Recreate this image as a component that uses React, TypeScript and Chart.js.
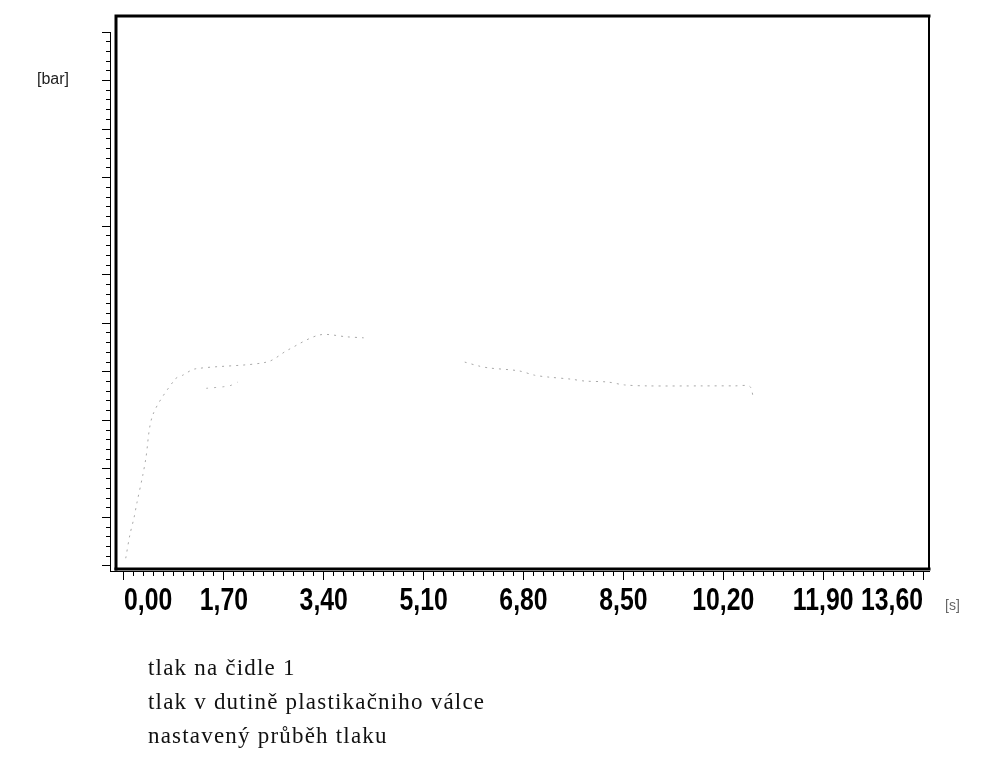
import React, { useEffect, useRef } from 'react';
import { Chart, registerables } from 'chart.js';

Chart.register(...registerables);

// Time axis labels (s), one per major tick
const timeLabels = ['0,00', '1,70', '3,40', '5,10', '6,80', '8,50', '10,20', '11,90', '13,60'];
const timeMajorStep = 1.7;
const timeMinorPerMajor = 10;

// Pressure axis (bar) – unlabelled ticks
const pressureMax = 110;
const pressureMajorStep = 10;
const pressureMinorStep = 2;

// Series names
const seriesNames = ['tlak na čidle 1', 'tlak v dutině plastikačniho válce', 'nastavený průběh tlaku'];

// tlak na čidle 1
const sensorTime = [0.03, 0.10, 0.17, 0.22, 0.32, 0.37, 0.49, 0.87, 1.00, 1.21, 2.43, 2.79, 3.33, 3.80, 4.08, 4.60, 5.80, 6.04, 6.21, 6.72, 6.99, 7.24, 7.60, 7.84, 8.23, 8.52, 8.91, 9.84, 10.39, 10.65, 10.71];
const sensorPressure = [1.6, 6.4, 9.9, 13.0, 18.7, 22.0, 31.1, 38.5, 39.3, 40.6, 42.0, 44.5, 47.6, 47.2, 47.0, null, 42.0, 41.2, 40.8, 40.2, 39.3, 38.9, 38.5, 38.1, 37.9, 37.3, 37.1, 37.1, 37.1, 37.0, 34.8];

// tlak v dutině plastikačniho válce (visible fragment)
const cavityTime = [1.40, 1.79, 1.94];
const cavityPressure = [36.6, 37.1, 37.9];

// nastavený průběh tlaku (no visible trace)
const setpointTime: number[] = [];
const setpointPressure: number[] = [];

const toPoints = (xs: number[], ys: (number | null)[]) => xs.map((x, i) => ({ x, y: ys[i] }));

// Thick frame around the plotting region
const plotFrame = {
  id: 'plotFrame',
  afterDraw(chart: any) {
    const { ctx, chartArea } = chart;
    const l = chartArea.left + 6;
    const t = chartArea.top - 16;
    const r = chartArea.right;
    const b = chartArea.bottom - 2;
    ctx.save();
    ctx.strokeStyle = '#000';
    ctx.lineCap = 'square';
    ctx.lineWidth = 3;
    ctx.beginPath();
    ctx.moveTo(l, b);
    ctx.lineTo(l, t);
    ctx.lineTo(r, t);
    ctx.stroke();
    ctx.lineWidth = 2;
    ctx.beginPath();
    ctx.moveTo(r, t);
    ctx.lineTo(r, b);
    ctx.stroke();
    ctx.lineWidth = 3;
    ctx.beginPath();
    ctx.moveTo(r, b);
    ctx.lineTo(l, b);
    ctx.stroke();
    ctx.restore();
  },
};

// Narrow bold labels under the major time ticks
const narrowTimeLabels = {
  id: 'narrowTimeLabels',
  afterDraw(chart: any) {
    const { ctx, chartArea } = chart;
    const xScale = chart.scales.x;
    const baseline = chartArea.bottom + 39;
    const last = timeLabels.length - 1;
    ctx.save();
    ctx.fillStyle = '#000';
    ctx.font = "bold 31px 'Liberation Sans', Arial, sans-serif";
    ctx.textBaseline = 'alphabetic';
    timeLabels.forEach((label, i) => {
      const x = xScale.getPixelForValue(i * timeMajorStep);
      ctx.save();
      ctx.translate(x, baseline);
      ctx.scale(0.8, 1);
      ctx.textAlign = i === 0 ? 'left' : i === last ? 'right' : 'center';
      ctx.fillText(label, 0, 0);
      ctx.restore();
    });
    ctx.restore();
  },
};

export default function App() {
  const canvasRef = useRef<HTMLCanvasElement>(null);

  useEffect(() => {
    if (!canvasRef.current) return;
    const chart = new Chart(canvasRef.current, {
      type: 'line',
      data: {
        datasets: [
          {
            label: seriesNames[0],
            data: toPoints(sensorTime, sensorPressure),
            borderColor: '#a8a8a8',
            borderWidth: 1,
            borderDash: [2, 5],
            pointRadius: 0,
            tension: 0.3,
            spanGaps: false,
          },
          {
            label: seriesNames[1],
            data: toPoints(cavityTime, cavityPressure),
            borderColor: '#b4b4b4',
            borderWidth: 1,
            borderDash: [2, 6],
            pointRadius: 0,
            tension: 0.3,
          },
          {
            label: seriesNames[2],
            data: toPoints(setpointTime, setpointPressure),
            borderColor: '#b4b4b4',
            borderWidth: 1,
            pointRadius: 0,
          },
        ],
      },
      options: {
        responsive: false,
        animation: false,
        events: [],
        layout: { padding: { left: 96, top: 32, right: 75, bottom: 135 } },
        plugins: { legend: { display: false }, tooltip: { enabled: false } },
        scales: {
          x: {
            type: 'linear',
            min: -0.238,
            max: 13.702,
            afterBuildTicks: (scale: any) => {
              const n = (timeLabels.length - 1) * timeMinorPerMajor;
              const ticks = [];
              for (let i = 0; i <= n; i++) ticks.push({ value: (i * timeMajorStep) / timeMinorPerMajor });
              scale.ticks = ticks;
            },
            afterFit: (scale: any) => {
              scale.height = 60;
            },
            ticks: { display: false, autoSkip: false, maxRotation: 0 },
            grid: {
              drawOnChartArea: false,
              drawTicks: true,
              tickLength: 9,
              tickColor: '#000',
              tickWidth: 1,
              tickBorderDash: (ctx: any) => (ctx.index % timeMinorPerMajor === 0 ? [] : [4, 20]),
            },
            border: { display: true, color: '#000', width: 1 },
          },
          y: {
            type: 'linear',
            min: -1.03,
            max: pressureMax,
            afterBuildTicks: (scale: any) => {
              const ticks = [];
              for (let v = 0; v <= pressureMax; v += pressureMinorStep) ticks.push({ value: v });
              scale.ticks = ticks;
            },
            afterFit: (scale: any) => {
              scale.width = 14;
            },
            ticks: { display: false },
            grid: {
              drawOnChartArea: false,
              drawTicks: true,
              tickLength: 8,
              tickColor: '#000',
              tickWidth: 1,
              tickBorderDash: (ctx: any) =>
                ctx.tick && ctx.tick.value % pressureMajorStep === 0 ? [] : [0, 4, 4, 0],
            },
            border: { display: true, color: '#000', width: 1 },
          },
        },
      },
      plugins: [plotFrame, narrowTimeLabels],
    });
    return () => chart.destroy();
  }, []);

  return (
    <div style={{ position: 'absolute', left: 0, top: 0, width: 1004, height: 766, background: '#fff', overflow: 'hidden' }}>
      <canvas ref={canvasRef} width={1004} height={766} style={{ position: 'absolute', left: 0, top: 0 }} />
      <div style={{ position: 'absolute', left: 37, top: 70, font: "16px 'Liberation Sans', Arial, sans-serif", color: '#222' }}>[bar]</div>
      <div style={{ position: 'absolute', left: 945, top: 597, font: "14px 'Liberation Sans', Arial, sans-serif", color: '#666' }}>[s]</div>
      <div style={{ position: 'absolute', left: 148, top: 651, font: "23px 'Liberation Serif', 'Times New Roman', serif", letterSpacing: '1.2px', lineHeight: '34px', color: '#111' }}>
        {seriesNames.map((name) => (
          <div key={name}>{name}</div>
        ))}
      </div>
    </div>
  );
}
